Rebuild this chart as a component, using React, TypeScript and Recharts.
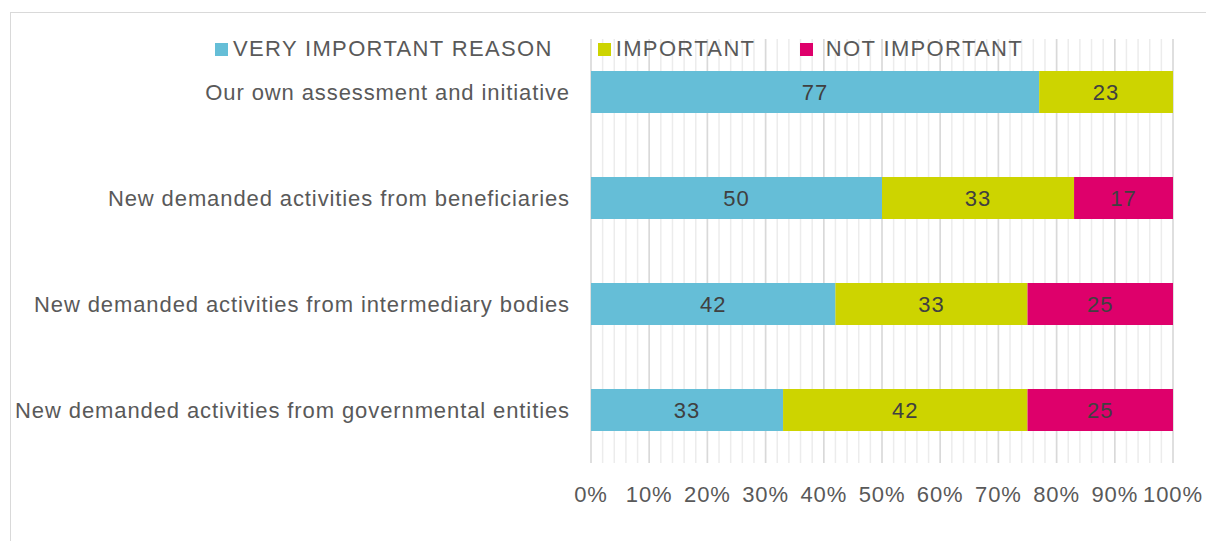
import React from "react";
import { BarChart, Bar, XAxis, YAxis, CartesianGrid, Legend, LabelList } from "recharts";

const categories = [
  "Our own assessment and initiative",
  "New demanded activities from beneficiaries",
  "New demanded activities from intermediary bodies",
  "New demanded activities from governmental entities",
];
const veryImportant = [77, 50, 42, 33];
const important = [23, 33, 33, 42];
const notImportant = [0, 17, 25, 25];

const seriesKeys = ["very", "important", "not"];
const seriesNames = ["VERY IMPORTANT REASON", "IMPORTANT", " NOT IMPORTANT"];
const seriesColors = ["#65bed7", "#cdd400", "#de006b"];

const majorTicks = [0, 10, 20, 30, 40, 50, 60, 70, 80, 90, 100];
const minorTicks = [
  0, 2, 4, 6, 8, 10, 12, 14, 16, 18, 20, 22, 24, 26, 28, 30, 32, 34, 36, 38, 40, 42, 44, 46, 48, 50,
  52, 54, 56, 58, 60, 62, 64, 66, 68, 70, 72, 74, 76, 78, 80, 82, 84, 86, 88, 90, 92, 94, 96, 98, 100,
];

const data = categories.map((name, i) => ({
  name,
  very: veryImportant[i],
  important: important[i],
  not: notImportant[i],
}));

const FONT = "'Liberation Sans', Arial, sans-serif";
const tickStyle = { fill: "#595959", fontSize: 22, fontFamily: FONT, letterSpacing: 0.9 };

// minor gridlines every 2%, placed with the x axis scale
const minorLines = ({ xAxis, offset }: any) =>
  minorTicks.map((t) =>
    xAxis && typeof xAxis.scale === "function" ? xAxis.scale(t) : offset.left + (offset.width * t) / 100
  );

const renderLegend = () => (
  <div style={{ display: "flex", alignItems: "center", fontFamily: FONT, fontSize: 22, color: "#595959", letterSpacing: 1.35 }}>
    {seriesNames.map((n, i) => (
      <div key={n} style={{ display: "flex", alignItems: "center", marginRight: i < seriesNames.length - 1 ? 45 : 0 }}>
        <span style={{ display: "inline-block", width: 13, height: 13, background: seriesColors[i], marginRight: 5 }} />
        <span style={{ whiteSpace: "pre", lineHeight: "26px" }}>{n}</span>
      </div>
    ))}
  </div>
);

export default function App() {
  return (
    <div style={{ position: "absolute", left: 0, top: 0, width: 1206, height: 541, overflow: "hidden", background: "#fff" }}>
      <div style={{ position: "absolute", left: 10, top: 12, width: 1400, height: 800, border: "1px solid #d9d9d9" }} />
      <BarChart
        width={1206}
        height={541}
        data={data}
        layout="vertical"
        barSize={42}
        margin={{ top: 13, right: 33, bottom: 38, left: 0 }}
      >
        <CartesianGrid horizontal={false} stroke="#ececec" strokeWidth={1.5} verticalCoordinatesGenerator={minorLines} />
        <CartesianGrid horizontal={false} stroke="#d9d9d9" strokeWidth={1.5} />
        <XAxis
          type="number"
          domain={[0, 100]}
          ticks={majorTicks}
          interval={0}
          tickFormatter={(v: number) => `${v}%`}
          axisLine={false}
          tickLine={false}
          tickSize={0}
          tickMargin={23}
          height={40}
          tick={tickStyle}
        />
        <YAxis
          type="category"
          dataKey="name"
          width={591}
          axisLine={false}
          tickLine={false}
          tickSize={0}
          tickMargin={21}
          interval={0}
          tick={tickStyle}
        />
        <Legend
          verticalAlign="top"
          content={renderLegend}
          wrapperStyle={{ position: "absolute", top: 36, left: 215, width: "auto" }}
        />
        {seriesKeys.map((k, i) => (
          <Bar key={k} dataKey={k} name={seriesNames[i]} stackId="s" fill={seriesColors[i]} isAnimationActive={false}>
            <LabelList
              dataKey={k}
              position="center"
              formatter={(v: any) => (v ? v : "")}
              fill="#404040"
              fontSize={22}
              fontFamily={FONT}
              letterSpacing={1}
            />
          </Bar>
        ))}
      </BarChart>
    </div>
  );
}
